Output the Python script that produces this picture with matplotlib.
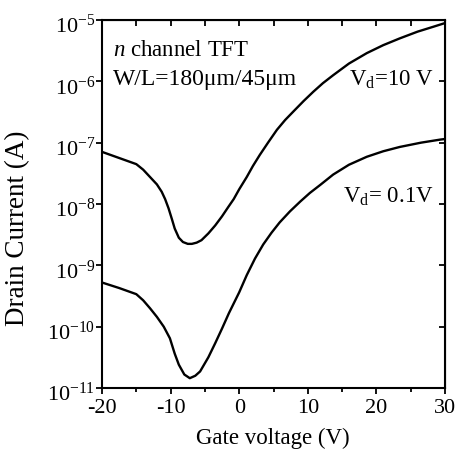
import matplotlib
matplotlib.use("Agg")
import matplotlib.pyplot as plt
import numpy as np
from matplotlib.ticker import LogLocator, MultipleLocator
from matplotlib.transforms import ScaledTranslation

plt.rcParams['font.family'] = ['Liberation Serif', 'DejaVu Serif']
plt.rcParams['mathtext.fontset'] = 'custom'
plt.rcParams['mathtext.rm'] = 'Liberation Serif'
plt.rcParams['mathtext.it'] = 'Liberation Serif:italic'
plt.rcParams['axes.unicode_minus'] = False

# gate voltage (V) and log10 of drain current (A)
vg_10 = [-20, -17.5, -15, -14, -13, -12, -11.3, -10.8, -10.3, -9.8, -9.4, -8.8,
         -8.2, -7.5, -6.9, -6.2, -5.5, -4.5, -3.5, -2.5, -1.6, -0.8, 0, 1.1, 2,
         3, 4.2, 5.5, 6.7, 8, 9.4, 10.8, 12.2, 13.7, 16, 18.6, 21, 23.4, 26,
         28.3, 30]
logi_10 = [-7.15, -7.25, -7.35, -7.44, -7.56, -7.68, -7.80, -7.92, -8.07, -8.25,
           -8.40, -8.55, -8.62, -8.65, -8.65, -8.63, -8.59, -8.48, -8.35, -8.20,
           -8.05, -7.92, -7.76, -7.56, -7.38, -7.20, -7.00, -6.79, -6.63, -6.48,
           -6.32, -6.17, -6.03, -5.90, -5.71, -5.54, -5.41, -5.30, -5.19, -5.11,
           -5.05]

vg_01 = [-20, -17.5, -15, -14, -13, -12, -11, -10.1, -9.4, -8.8, -8.0, -7.2,
         -6.4, -5.7, -4.5, -3.5, -2.5, -1.5, 0, 1.1, 2.3, 3.5, 4.7, 5.9, 7.4,
         8.9, 10.3, 11.8, 13.7, 16, 18.6, 21, 23.4, 26.5, 29.3, 30]
logi_01 = [-9.28, -9.37, -9.47, -9.57, -9.70, -9.84, -10.00, -10.19, -10.44,
           -10.62, -10.78, -10.84, -10.80, -10.73, -10.50, -10.27, -10.03, -9.78,
           -9.44, -9.16, -8.89, -8.66, -8.47, -8.30, -8.12, -7.96, -7.82, -7.69,
           -7.52, -7.36, -7.23, -7.14, -7.07, -7.00, -6.95, -6.94]

fig = plt.figure(figsize=(4.57, 4.58), dpi=100)
ax = fig.add_axes([102/457, 70/458, 343/457, 368/458])

ax.plot(vg_10, 10**np.array(logi_10), color='black', lw=1.7)
ax.plot(vg_01, 10**np.array(logi_01), color='black', lw=1.7)

ax.set_yscale('log')
ax.set_xlim(-20, 30)
ax.set_ylim(1e-11, 1e-5)
ax.yaxis.set_major_locator(LogLocator(base=10, numticks=20))
ax.yaxis.set_minor_locator(plt.NullLocator())
ax.xaxis.set_major_locator(MultipleLocator(10))
ax.xaxis.set_minor_locator(MultipleLocator(5))

for s in ax.spines.values():
    s.set_linewidth(1.5)

ax.tick_params(axis='both', which='major', direction='out', length=4, width=1.3,
               labelsize=16)
ax.tick_params(axis='x', which='minor', direction='out', length=3, width=1.3)
ax.tick_params(axis='y', pad=1)
ax.tick_params(axis='x', pad=4)

# inward ticks on top and right
top = ax.secondary_xaxis('top')
top.xaxis.set_major_locator(MultipleLocator(5))
top.tick_params(direction='in', length=4, width=1.3, labeltop=False)
right = ax.secondary_yaxis('right')
right.yaxis.set_major_locator(LogLocator(base=10, numticks=20))
right.yaxis.set_minor_locator(plt.NullLocator())
right.tick_params(direction='in', length=4, width=1.3, labelright=False)

fig.text(18/457, 1 - 228/458, 'Drain Current (A)', rotation=90,
         ha='center', va='center', fontsize=19.5)
fig.text(273/457, 1 - 438/458, 'Gate voltage (V)',
         ha='center', va='center', fontsize=16.5)

fig.text(113/457, 1 - 50/458, r'$\it{n}$ channel TFT', ha='left', va='center',
         fontsize=16.5)
fig.text(113/457, 1 - 80/458, 'W/L=180μm/45μm', ha='left', va='center',
         fontsize=17)
fig.text(434/457, 1 - 80/458, r'$\mathregular{V_d}$=10 V', ha='right',
         va='center', fontsize=16.5)
fig.text(434/457, 1 - 197/458, r'$\mathregular{V_d}$= 0.1V', ha='right',
         va='center', fontsize=16.5)

# the "10" of each y label sits just below its tick in the original
fig.canvas.draw()
shift = ScaledTranslation(0, -4/100, fig.dpi_scale_trans)
for t in ax.yaxis.get_major_ticks():
    t.label1.set_transform(t.label1.get_transform() + shift)

fig.savefig('out.png', dpi=100)
